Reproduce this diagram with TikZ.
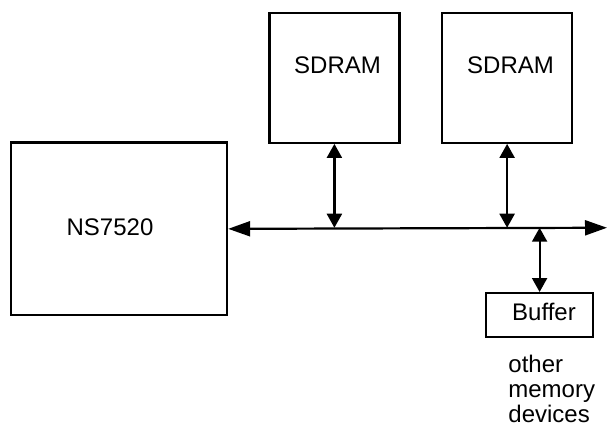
\documentclass[tikz,border=0pt]{standalone}
\usepackage{fontspec}
\setmainfont{Liberation Sans}
\usetikzlibrary{arrows.meta}
\begin{document}
\begin{tikzpicture}[x=0.5pt,y=-0.5pt,
  box/.style={draw, line width=1.1pt, inner sep=0pt, anchor=north west},
  lbl/.style={font=\fontsize{12}{12.5}\selectfont, inner sep=0pt},
  bus/.style={line width=1.1pt, {Triangle[length=11pt,width=7.5pt]}-{Triangle[length=11pt,width=7.5pt]}},
  link/.style={line width=1.1pt, {Triangle[length=7pt,width=7.5pt]}-{Triangle[length=7pt,width=7.5pt]}}]
\useasboundingbox (0,0) rectangle (610,427);
% boxes
\node[box, minimum width=108pt, minimum height=86.25pt] (cpu) at (10,141.5) {};
\node[box, minimum width=65pt, minimum height=65pt] (sd1) at (268.3,11.7) {};
\node[box, minimum width=65pt, minimum height=65pt] (sd2) at (441,11.7) {};
\node[box, minimum width=53.5pt, minimum height=22pt] (buf) at (485,292) {};
% texts
\node[lbl] (cputext) at (110,227.7) {NS7520};
\node[lbl] (sd1text) at (337.5,65) {SDRAM};
\node[lbl] (sd2text) at (510.5,65) {SDRAM};
\node[lbl] (buftext) at (544,312) {Buffer};
\node[lbl, align=left, anchor=north west] (other) at (508,355) {other\\memory\\devices};
% bus
\coordinate (busend) at (607,227.75);
\coordinate (j1) at (sd1.south |- busend);
\coordinate (j2) at (sd2.south |- busend);
\coordinate (j3) at (buf.north |- busend);
\draw[bus] (cpu.east) -- (busend);
\draw[link] (sd1.south) -- (j1);
\draw[link] (sd2.south) -- (j2);
\draw[link] (buf.north) -- (j3);
\end{tikzpicture}
\end{document}
